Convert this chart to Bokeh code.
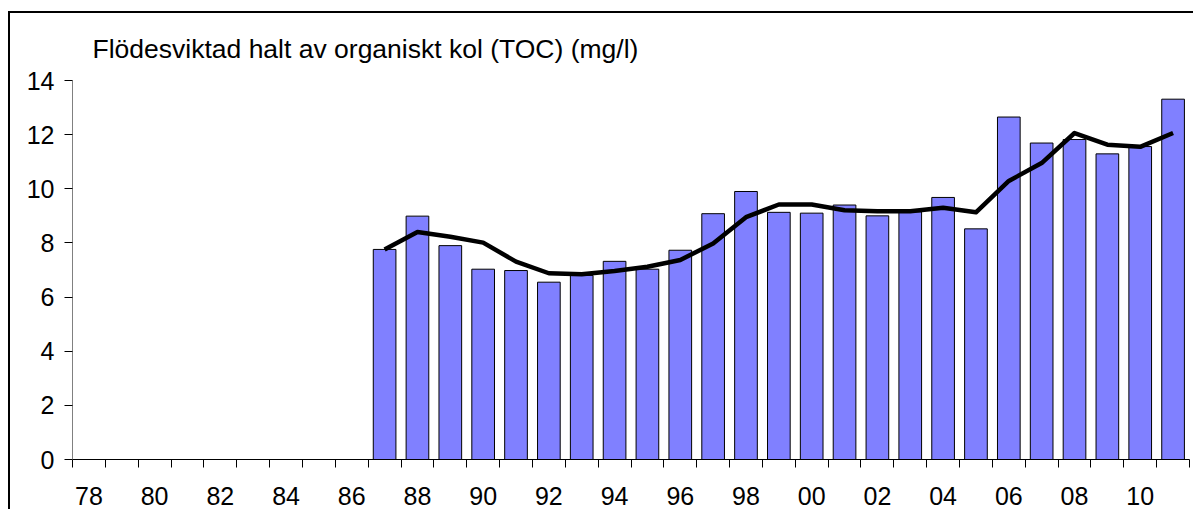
from bokeh.plotting import figure
from bokeh.models import FixedTicker
from bokeh.embed import file_html
from bokeh.resources import INLINE

years = ['78', '79', '80', '81', '82', '83', '84', '85', '86', '87', '88', '89',
         '90', '91', '92', '93', '94', '95', '96', '97', '98', '99', '00', '01',
         '02', '03', '04', '05', '06', '07', '08', '09', '10', '11']
toc = [None] * 9 + [7.76, 8.99, 7.90, 7.03, 6.98, 6.55, 6.80, 7.32, 7.03, 7.73,
                    9.08, 9.90, 9.13, 9.10, 9.40, 9.00, 9.15, 9.68, 8.52, 12.65,
                    11.69, 11.82, 11.29, 11.56, 13.31]
trend = [None] * 9 + [7.76, 8.40, 8.23, 8.01, 7.31, 6.88, 6.84, 6.96, 7.12, 7.37,
                      7.98, 8.95, 9.42, 9.42, 9.21, 9.17, 9.17, 9.30, 9.13, 10.29,
                      10.95, 12.06, 11.63, 11.55, 12.06]
y_ticks = [0, 2, 4, 6, 8, 10, 12, 14]
title = "Flödesviktad halt av organiskt kol (TOC) (mg/l)"

n = len(years)
xc = [i + 0.5 for i in range(n)]
bx = [xc[i] for i in range(n) if toc[i] is not None]
bt = [toc[i] for i in range(n) if toc[i] is not None]
lx = [xc[i] for i in range(n) if trend[i] is not None]
ly = [trend[i] for i in range(n) if trend[i] is not None]

FONT = "Liberation Sans"

p = figure(width=1185, height=498, x_range=(0, n), y_range=(0, 14),
           output_backend="svg", toolbar_location=None,
           min_border_left=62, min_border_right=6, min_border_top=67,
           min_border_bottom=52)
# chart-area frame: only its left and top edges fall inside the picture
p.styles = {"position": "absolute", "left": "10px", "top": "13px",
            "box-shadow": "-2px -2px 0px 0px black"}
p.outline_line_color = None
p.outline_line_alpha = 0
p.xgrid.grid_line_color = None
p.ygrid.grid_line_color = None
p.background_fill_color = "white"
p.border_fill_color = None

p.title.text = title
p.title.text_font = FONT
p.title.text_font_size = "26.5px"
p.title.text_font_style = "normal"
p.title.text_color = "black"
p.title.align = "left"
p.title.offset = 20
p.title.standoff = 34

p.vbar(x=bx, top=bt, width=0.69, fill_color="#8080FF",
       line_color="black", line_width=1)
p.line(x=lx, y=ly, line_color="black", line_width=4.5, line_join="round")

# x axis: labels at centers (even years), ticks at category boundaries
xt = FixedTicker(ticks=[xc[i] for i in range(0, n, 2)],
                 minor_ticks=list(range(0, n + 1)))
p.xaxis.ticker = xt
p.xaxis.major_label_overrides = {xc[i]: years[i] for i in range(0, n, 2)}
p.xaxis.major_tick_out = 0
p.xaxis.major_tick_in = 0
p.xaxis.minor_tick_out = 8
p.xaxis.minor_tick_in = 0
p.xaxis.minor_tick_line_color = "black"
p.xaxis.axis_line_color = "black"
p.xaxis.major_label_text_font = FONT
p.xaxis.major_label_text_font_size = "25px"
p.xaxis.major_label_text_color = "black"
p.xaxis.major_label_standoff = 19

p.yaxis.ticker = FixedTicker(ticks=y_ticks)
p.yaxis.major_tick_out = 8
p.yaxis.major_tick_in = 0
p.yaxis.minor_tick_line_color = None
p.yaxis.major_tick_line_color = "black"
p.yaxis.axis_line_color = "#808080"
p.yaxis.major_label_text_font = FONT
p.yaxis.major_label_text_font_size = "25px"
p.yaxis.major_label_text_color = "black"
p.yaxis.major_label_standoff = 10

open("out.html", "w").write(file_html(p, INLINE))
